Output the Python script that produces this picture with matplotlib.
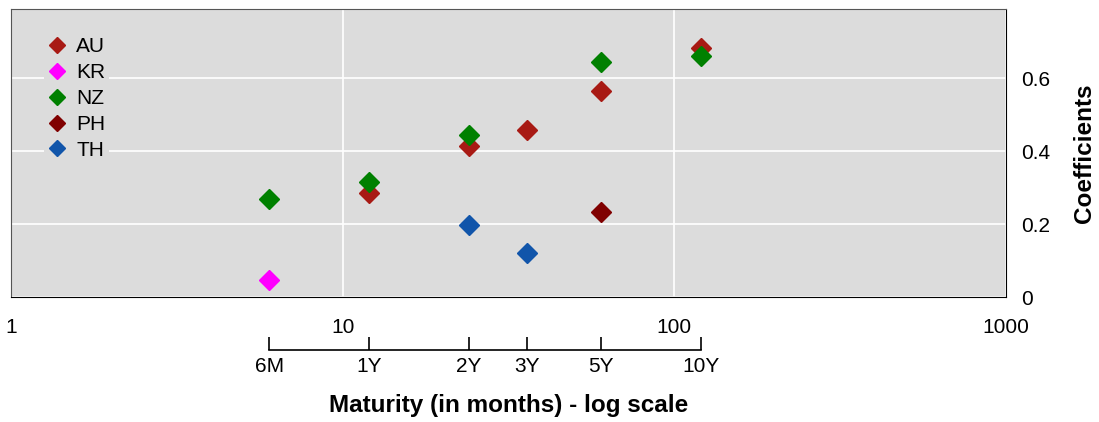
import matplotlib.pyplot as plt

plt.rcParams['font.family'] = ['Liberation Sans', 'DejaVu Sans']

# maturities in months
au_x = [12, 24, 36, 60, 120]
au_y = [0.286, 0.413, 0.459, 0.564, 0.682]
kr_x = [6]
kr_y = [0.047]
nz_x = [6, 12, 24, 60, 120]
nz_y = [0.270, 0.316, 0.443, 0.644, 0.660]
ph_x = [60]
ph_y = [0.234]
th_x = [24, 36]
th_y = [0.198, 0.121]

mat_ticks = [6, 12, 24, 36, 60, 120]
mat_labels = ['6M', '1Y', '2Y', '3Y', '5Y', '10Y']

series = [
    ('AU', au_x, au_y, '#A81A14'),
    ('KR', kr_x, kr_y, '#FF00FF'),
    ('NZ', nz_x, nz_y, '#008000'),
    ('PH', ph_x, ph_y, '#800000'),
    ('TH', th_x, th_y, '#1155AA'),
]

fig = plt.figure(figsize=(10.99, 4.22), dpi=100)
ax = fig.add_axes([0.010, 0.296, 0.9054, 0.683])
ax.set_facecolor('#DCDCDC')

for name, xs, ys, c in series:
    ax.plot(xs, ys, linestyle='none', marker='D', ms=10, color=c, label=name)

ax.set_xscale('log')
ax.set_xlim(1, 1000)
ax.set_ylim(0, 0.79)
ax.set_xticks([1, 10, 100, 1000])
ax.set_xticklabels(['1', '10', '100', '1000'])
ax.minorticks_off()
ax.set_yticks([0, 0.2, 0.4, 0.6])
ax.set_yticklabels(['0', '0.2', '0.4', '0.6'])
ax.yaxis.tick_right()
ax.yaxis.set_label_position('right')
ax.tick_params(axis='both', length=0, labelsize=15)
ax.tick_params(axis='x', pad=15)
ax.tick_params(axis='y', pad=11)
ax.grid(True, color='white', linewidth=1.2)
ax.set_axisbelow(True)
for s in ['left', 'top']:
    ax.spines[s].set_color('#555555')
for s in ['right', 'bottom']:
    ax.spines[s].set_color('black')
ax.set_ylabel('Coefficients', fontsize=17.5, fontweight='bold', labelpad=16)

leg = ax.legend(loc='upper left', fontsize=15, markerscale=0.85, frameon=True,
                facecolor='#DCDCDC', edgecolor='none', framealpha=1,
                handlelength=0.9, handletextpad=0.45, labelspacing=0.33,
                bbox_to_anchor=(0.033, 0.916), borderaxespad=0, borderpad=0.2)

# maturity axis below
ax2 = fig.add_axes([0.010, 0.171, 0.9054, 0.01])
ax2.set_xscale('log')
ax2.set_xlim(1, 1000)
ax2.patch.set_visible(False)
for s in ['left', 'right', 'top']:
    ax2.spines[s].set_visible(False)
ax2.spines['bottom'].set_bounds(6, 120)
ax2.spines['bottom'].set_linewidth(1.2)
ax2.set_yticks([])
ax2.minorticks_off()
ax2.set_xticks(mat_ticks)
ax2.set_xticklabels(mat_labels)
ax2.tick_params(axis='x', direction='in', length=9.5, width=1.2, labelsize=15, pad=5)

fig.text(0.4625, 0.040, 'Maturity (in months) - log scale', ha='center', va='center',
         fontsize=17.5, fontweight='bold')

plt.savefig('out.png')
